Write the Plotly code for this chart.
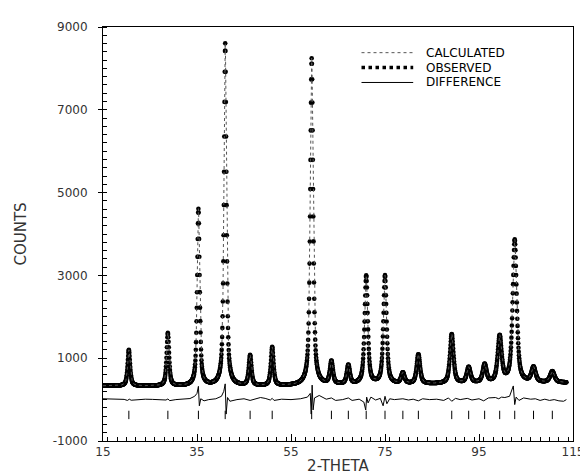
import numpy as np
import plotly.graph_objects as go

# ---- values ----
# reflection / peak positions (2-theta), peak heights above background (counts), FWHM (deg)
peak_pos = [20.5, 28.8, 35.3, 41.0, 46.3, 51.0, 59.4, 63.6, 67.2, 71.0,
            75.0, 78.8, 82.1, 89.2, 92.8, 96.2, 99.4, 102.6, 106.6, 110.6]
peak_height = [870, 1280, 4270, 8270, 730, 930, 7900, 550, 460, 2620,
               2620, 260, 710, 1190, 380, 440, 1110, 3450, 360, 270]
peak_fwhm = [0.63, 0.63, 0.63, 0.63, 0.68, 0.68, 0.72, 0.76, 0.76, 0.8,
             0.8, 0.85, 0.85, 0.9, 0.95, 0.95, 1.0, 1.0, 1.05, 1.1]
peak_eta = 0.65

# background level read at a few angles
bg_theta = [15, 30, 50, 65, 80, 95, 113.6]
bg_counts = [330, 320, 320, 345, 365, 385, 405]

# difference curve (observed - calculated)
diff_theta = [15.0, 16.5, 18.0, 19.5, 20.2, 20.6, 21.0, 22.5, 24.0, 25.5, 27.0, 28.4, 28.8, 29.2,
              30.5, 32.0, 33.5, 34.5, 35.0, 35.3, 35.5, 35.8, 36.5, 37.5, 39.0, 40.2, 40.7,
              41.0, 41.2, 41.5, 42.0, 43.5, 45.0, 46.3, 47.5, 48.5, 49.5, 50.6, 51.0, 51.4,
              53.0, 55.0, 57.0, 58.5, 59.1, 59.3, 59.5, 59.7, 60.0, 61.0, 62.5, 63.6, 64.5,
              66.0, 67.2, 68.0, 69.5, 70.5, 70.9, 71.1, 71.4, 72.0, 73.0, 74.0, 74.6, 75.0,
              75.4, 76.0, 77.0, 78.8, 80.0, 81.0, 82.1, 83.0, 84.5, 86.0, 87.5, 88.5, 89.2,
              90.0, 91.0, 92.5, 93.5, 95.0, 96.0, 97.0, 98.5, 99.2, 99.8, 100.5, 101.5,
              102.3, 102.6, 102.9, 103.5, 104.5, 106.0, 107.0, 108.0, 109.0, 110.0, 111.0,
              112.0, 113.0, 113.6]
diff_counts = [20, 10, 0, 5, -20, 10, -15, 0, 10, 5, 0, -10, 15, -25,
               0, 10, 25, 80, 150, 320, -150, 20, -30, 0, 20, 80, 200,
               380, -350, 50, -40, 0, 20, -20, 10, 50, 30, -10, 30, -20,
               10, 0, 20, 60, 150, -350, 350, -250, 40, 100, 10, 40, -20,
               0, 40, -20, 10, -60, -250, 60, -80, 60, -10, 30, -150, 80,
               -100, 20, 0, 20, -10, 10, -30, 20, 0, 10, -20, 40, -40,
               30, 0, 30, -10, 20, -30, 40, 50, 20, 60, 50, 80,
               330, -120, 60, -20, 40, 10, 20, -20, 10, -20, 0,
               -30, -40, 0]

tick_level = -370           # counts level of reflection markers
theta_start, theta_end = 15.0, 113.6
obs_step, calc_step = 0.05, 0.02

x_tick_vals = [15, 35, 55, 75, 95, 115]
y_tick_vals = [-1000, 1000, 3000, 5000, 7000, 9000]
y_tick_text = ["-1000", "1000", "3000", "5000", "7000", "9000"]


def profile(theta):
    theta = np.asarray(theta)
    y = np.interp(theta, bg_theta, bg_counts).astype(float)
    for p, h, w in zip(peak_pos, peak_height, peak_fwhm):
        d = (theta - p) / w
        lor = 1.0 / (1.0 + 4.0 * d ** 2)
        gau = np.exp(-4.0 * np.log(2.0) * d ** 2)
        y += h * (peak_eta * lor + (1 - peak_eta) * gau)
    return y


theta_obs = np.arange(theta_start, theta_end + 1e-9, obs_step)
theta_calc = np.arange(theta_start, theta_end + 1e-9, calc_step)
obs = profile(theta_obs)
calc = profile(theta_calc)

fig = go.Figure()
fig.add_trace(go.Scatter(x=theta_obs, y=obs, mode="markers",
                         marker=dict(color="black", size=4.6), showlegend=False,
                         name="OBSERVED"))
fig.add_trace(go.Scatter(x=theta_calc, y=calc, mode="lines",
                         line=dict(color="#555555", width=1, dash="dot"), showlegend=False,
                         name="CALCULATED"))
fig.add_trace(go.Scatter(x=diff_theta, y=diff_counts, mode="lines",
                         line=dict(color="black", width=1), showlegend=False,
                         name="DIFFERENCE"))
fig.add_trace(go.Scatter(x=peak_pos, y=[tick_level] * len(peak_pos), mode="markers",
                         marker=dict(symbol="line-ns", size=6,
                                     line=dict(color="black", width=1)),
                         showlegend=False, name="reflections"))

# legend drawn as sample strokes + text (paper coordinates)
leg_font = dict(family="DejaVu Sans", size=12, color="black")
leg_rows = [("CALCULATED", 0.938, dict(color="#555555", width=1, dash="dot")),
            ("OBSERVED", 0.902, dict(color="black", width=3.5, dash="dot")),
            ("DIFFERENCE", 0.866, dict(color="black", width=1))]
for label, yy, ln in leg_rows:
    fig.add_shape(type="line", xref="paper", yref="paper", x0=0.55, x1=0.66, y0=yy, y1=yy,
                  line=ln)
    fig.add_annotation(xref="paper", yref="paper", x=0.685, y=yy, text=label,
                       showarrow=False, xanchor="left", yanchor="middle", font=leg_font,
                       borderpad=0)

axis_font = dict(family="DejaVu Sans", size=12, color="#333333")
fig.update_layout(
    width=588, height=476,
    margin=dict(l=95, r=16, t=17, b=40),
    paper_bgcolor="white", plot_bgcolor="white",
    xaxis=dict(range=[15, 115], tickvals=x_tick_vals, ticks="inside", ticklen=7,
               tickcolor="black", showgrid=False, zeroline=False,
               showline=True, linecolor="black", linewidth=1, mirror=True,
               tickfont=axis_font,
               minor=dict(dtick=2, ticks="inside", ticklen=4, tickcolor="black", showgrid=False),
               title=dict(text="2-THETA", font=dict(family="DejaVu Sans", size=15, color="#333333"),
                          standoff=2)),
    yaxis=dict(range=[-1000, 9000], tickvals=y_tick_vals, ticktext=y_tick_text,
               ticks="outside", ticklen=4, tickcolor="black", showgrid=False, zeroline=False,
               showline=True, linecolor="black", linewidth=1, mirror=True,
               tickfont=axis_font, ticklabelstandoff=8,
               minor=dict(dtick=200, ticks="inside", ticklen=4, tickcolor="black", showgrid=False),
               title=dict(text="COUNTS", font=dict(family="DejaVu Sans", size=15, color="#333333"),
                          standoff=22)),
)

fig.write_html("out.html")
